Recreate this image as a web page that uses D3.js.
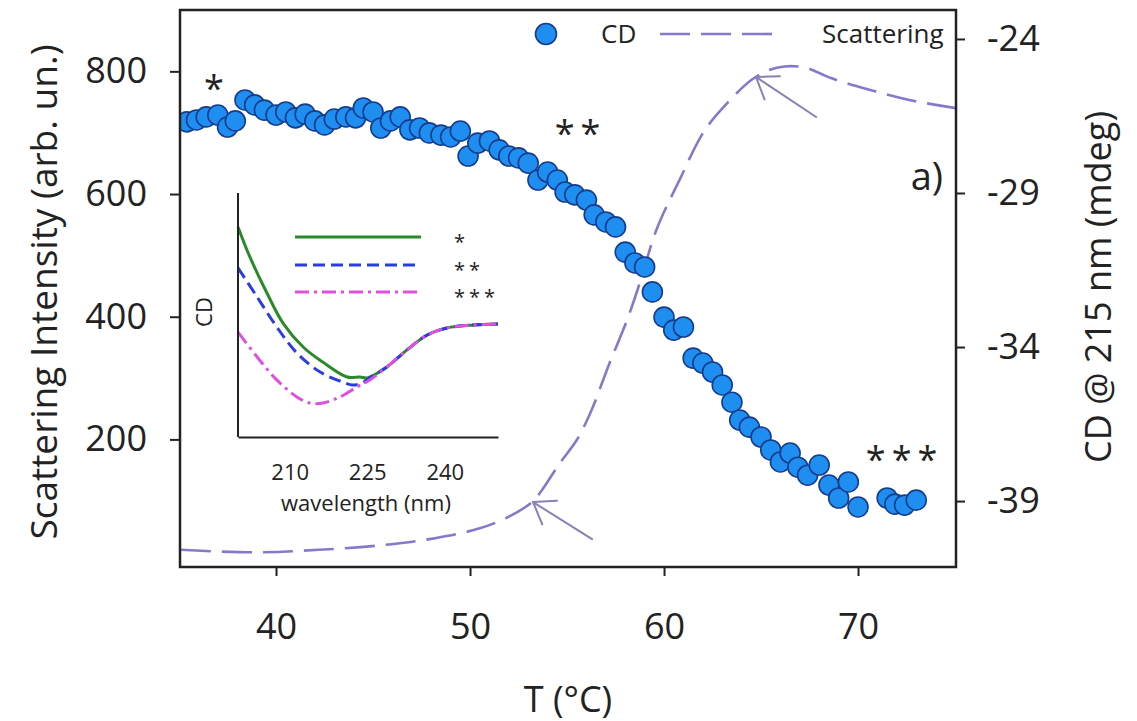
<!DOCTYPE html>
<html><head><meta charset="utf-8">
<script src="https://cdn.jsdelivr.net/npm/d3@7"></script>
<style>
body{margin:0;background:#fff;}
svg{display:block;}
text{font-family:'Open Sans',sans-serif;fill:#222;}
</style>
</head><body>
<svg id="c" width="1137" height="721"></svg>
<script>
// ---------- DATA ----------
// CD @ 215 nm (right axis) vs temperature
const cdT = [35.4, 35.9, 36.4, 37.0, 37.5, 37.9, 38.4, 38.9, 39.4, 40.0, 40.5, 41.0, 41.5, 42.0, 42.5, 43.0, 43.6, 44.1, 44.5, 45.0, 45.4, 45.9, 46.4, 46.9, 47.4, 47.9, 48.5, 49.0, 49.5, 49.9, 50.4, 51.0, 51.5, 52.0, 52.5, 53.0, 53.5, 54.0, 54.5, 54.9, 55.4, 56.0, 56.4, 57.0, 57.5, 58.0, 58.5, 59.0, 59.4, 60.0, 60.5, 61.0, 61.5, 62.0, 62.5, 63.0, 63.5, 63.9, 64.4, 65.0, 65.5, 66.0, 66.5, 66.9, 67.4, 68.0, 68.5, 69.0, 69.5, 70.0, 71.5, 71.9, 72.4, 73.0];
const cdVal = [-26.69, -26.63, -26.53, -26.47, -26.86, -26.66, -25.98, -26.14, -26.31, -26.47, -26.37, -26.56, -26.44, -26.66, -26.79, -26.60, -26.53, -26.56, -26.24, -26.37, -26.89, -26.66, -26.53, -26.95, -26.89, -27.05, -27.12, -27.18, -26.99, -27.80, -27.38, -27.31, -27.60, -27.80, -27.86, -28.03, -28.58, -28.32, -28.58, -28.97, -29.06, -29.23, -29.71, -29.94, -30.10, -30.92, -31.27, -31.40, -32.21, -33.03, -33.45, -33.35, -34.36, -34.52, -34.81, -35.23, -35.79, -36.37, -36.60, -36.92, -37.34, -37.73, -37.44, -37.90, -38.16, -37.83, -38.48, -38.90, -38.38, -39.19, -38.90, -39.10, -39.13, -38.97];

// Scattering intensity (left axis) vs temperature
const scatT   = [35.1, 38.8, 42.2, 45.6, 48.2, 50.5, 52.0, 53.2, 53.7, 54.6, 55.5, 56.2, 57.2, 58.1, 58.8, 59.6, 60.8, 62.1, 63.4, 64.5, 65.4, 66.2, 67.3, 68.6, 70.6, 72.7, 75.05];
const scatVal = [20, 16, 20, 28, 39, 55, 74, 98, 117, 160, 199, 243, 325, 395, 460, 541, 623, 704, 753, 786, 802, 808, 806, 789, 770, 753, 740];

// tick labels
const xTicks = [40, 50, 60, 70];
const yLeftTicks = [200, 400, 600, 800];
const yRightTicks = [-24, -29, -34, -39];

// annotation arrows (tail T, tail scattering, tip T, tip scattering)
const arrowTailT = [56.29, 67.84];
const arrowTailV = [37.5, 725.6];
const arrowTipT  = [53.25, 64.74];
const arrowTipV  = [97.8, 790.8];

// star labels (T, scattering-axis position)
const starText = ["*", "**", "***"];
const starT = [36.8, 55.7, 72.4];
const starV = [786, 712, 181];

// inset: CD spectra (arbitrary units) vs wavelength
const insetCommonWl  = [228.8, 232.7, 236.6, 240.4, 245.5, 250.3];
const insetCommonVal = [28.7, 35.7, 41.8, 44.7, 45.9, 46.3];
const insetGreenWl  = [200.0, 202.3, 205.6, 208.7, 212.6, 216.4, 221.1, 223.6, 225.0];
const insetGreenVal = [86.1, 73.8, 59.0, 46.7, 36.9, 30.7, 24.6, 24.6, 24.2];
const insetBlueWl   = [200.0, 203.7, 207.5, 211.4, 215.9, 220.3, 222.2, 224.0, 225.3];
const insetBlueVal  = [69.3, 57.4, 45.1, 34.4, 26.6, 22.5, 21.3, 22.1, 24.0];
const insetMagWl    = [200.0, 203.7, 207.5, 211.4, 213.9, 216.4, 219.7, 223.0, 225.5];
const insetMagVal   = [43.0, 32.8, 23.4, 16.4, 13.9, 13.9, 16.4, 20.5, 23.4];
const insetTicks = [210, 225, 240];
const insetLegend = ["*", "**", "***"];

// ---------- CHART ----------
const svg = d3.select('#c');
const M = {l:180, t:10, r:956, b:567};
const x  = d3.scaleLinear().domain([35.05, 75.05]).range([M.l, M.r]);
const yL = d3.scaleLinear().domain([-8, 900]).range([M.b, M.t]);
const yR = d3.scaleLinear().domain([-41.14, -23.06]).range([M.b, M.t]);

svg.append('rect').attr('width',1137).attr('height',721).attr('fill','#fff');
svg.append('defs').append('clipPath').attr('id','clip')
  .append('rect').attr('x',M.l).attr('y',M.t).attr('width',M.r-M.l).attr('height',M.b-M.t);

// ---- inset ----
const ix = d3.scaleLinear().domain([200, 250.3]).range([238, 498]);
const iy = d3.scaleLinear().domain([0, 100]).range([437, 193]);
const inset = svg.append('g');
const iline = d3.line().x(d=>ix(d[0])).y(d=>iy(d[1])).curve(d3.curveCatmullRom);
const common = d3.zip(insetCommonWl, insetCommonVal);
const series = [
  {wl: insetGreenWl, v: insetGreenVal, color:'#2a8a2a', dash:null},
  {wl: insetBlueWl,  v: insetBlueVal,  color:'#2a3ede', dash:'12,6'},
  {wl: insetMagWl,   v: insetMagVal,   color:'#e050e0', dash:'14,5,3,5'}
];
series.forEach(s=>{
  inset.append('path').datum(d3.zip(s.wl, s.v).concat(common))
    .attr('fill','none').attr('stroke',s.color).attr('stroke-width',3)
    .attr('stroke-dasharray',s.dash).attr('d',iline);
});
// inset axes
const ixAxis = inset.append('g').attr('transform','translate(0,437)')
  .call(d3.axisBottom(ix).tickValues(insetTicks).tickSize(0).tickPadding(27));
ixAxis.select('.domain').attr('stroke','#222').attr('stroke-width',2);
ixAxis.selectAll('text').attr('font-size',22).attr('fill','#333').attr('font-family',"'Open Sans',sans-serif");
inset.append('line').attr('x1',238).attr('x2',238).attr('y1',193).attr('y2',437)
  .attr('stroke','#222').attr('stroke-width',2);
inset.append('text').attr('x',366).attr('y',511).attr('text-anchor','middle')
  .attr('font-size',22).attr('fill','#333').text('wavelength (nm)');
inset.append('text').attr('transform','translate(212,312) rotate(-90)').attr('text-anchor','middle')
  .attr('font-size',22).attr('fill','#333').text('CD');
// inset legend
const legY = [237, 265, 292];
series.forEach((s,i)=>{
  inset.append('line').attr('x1',295).attr('x2',421).attr('y1',legY[i]).attr('y2',legY[i])
    .attr('stroke',s.color).attr('stroke-width',3).attr('stroke-dasharray',s.dash);
  inset.append('text').attr('x',454).attr('y',legY[i]+12).attr('font-size',20)
    .attr('letter-spacing','4px').attr('fill','#555').text(insetLegend[i]);
});

// ---- scattering curve ----
svg.append('path').datum(d3.zip(scatT, scatVal))
  .attr('clip-path','url(#clip)')
  .attr('fill','none').attr('stroke','#8878cc').attr('stroke-width',2.6)
  .attr('stroke-dasharray','30,11')
  .attr('d', d3.line().x(d=>x(d[0])).y(d=>yL(d[1])).curve(d3.curveCatmullRom));

// ---- arrows ----
arrowTipT.forEach((t,i)=>{
  const tx = x(t), ty = yL(arrowTipV[i]);
  const sx = x(arrowTailT[i]), sy = yL(arrowTailV[i]);
  const ang = Math.atan2(sy-ty, sx-tx);
  const g = svg.append('g').attr('stroke','#8682b4').attr('stroke-width',2).attr('fill','none').attr('stroke-linecap','round');
  g.append('line').attr('x1',sx).attr('y1',sy).attr('x2',tx).attr('y2',ty);
  [-0.62, 0.62].forEach(da=>{
    g.append('line').attr('x1',tx).attr('y1',ty)
      .attr('x2',tx+24*Math.cos(ang+da)).attr('y2',ty+24*Math.sin(ang+da));
  });
});

// ---- CD points ----
svg.append('g').attr('clip-path','url(#clip)')
  .selectAll('circle').data(d3.zip(cdT, cdVal)).join('circle')
  .attr('cx',d=>x(d[0])).attr('cy',d=>yR(d[1])).attr('r',10)
  .attr('fill','#1e8ef0').attr('stroke','#163c8c').attr('stroke-width',1.6);

// ---- star labels ----
starText.forEach((s,i)=>{
  svg.append('text').attr('x',x(starT[i])).attr('y',yL(starV[i])+21)
    .attr('text-anchor','middle').attr('font-size',36)
    .attr('letter-spacing', s.length>1 ? '6px':'0px').text(s);
});
svg.append('text').attr('x',943).attr('y',190).attr('text-anchor','end').attr('font-size',38).text('a)');

// ---- frame ----
svg.append('rect').attr('x',M.l).attr('y',M.t).attr('width',M.r-M.l).attr('height',M.b-M.t)
  .attr('fill','none').attr('stroke','#222').attr('stroke-width',2.5);

// ---- axes ----
function styleAxis(g){
  g.select('.domain').remove();
  g.selectAll('line').attr('stroke','#222').attr('stroke-width',2);
  g.selectAll('text').attr('font-size',36).attr('fill','#222').attr('font-family',"'Open Sans',sans-serif");
}
svg.append('g').attr('transform',`translate(0,${M.b})`)
  .call(d3.axisBottom(x).tickValues(xTicks).tickSize(9).tickPadding(37)).call(styleAxis);
svg.append('g').attr('transform',`translate(${M.l},0)`)
  .call(d3.axisLeft(yL).tickValues(yLeftTicks).tickSize(10).tickPadding(23)).call(styleAxis);
svg.append('g').attr('transform',`translate(${M.r},0)`)
  .call(d3.axisRight(yR).tickValues(yRightTicks).tickSize(9).tickPadding(22)
    .tickFormat(d=>'-' + Math.abs(d))).call(styleAxis);

// ---- titles ----
svg.append('text').attr('transform','translate(42,292) rotate(-90)').attr('text-anchor','middle')
  .attr('dominant-baseline','central').attr('font-size',37).text('Scattering Intensity (arb. un.)');
svg.append('text').attr('transform','translate(1097,287) rotate(-90)').attr('text-anchor','middle')
  .attr('dominant-baseline','central').attr('font-size',36).text('CD  @ 215 nm (mdeg)');
svg.append('text').attr('x',568).attr('y',698).attr('text-anchor','middle')
  .attr('dominant-baseline','central').attr('font-size',36).text('T (°C)');

// ---- legend ----
svg.append('circle').attr('cx',546).attr('cy',34).attr('r',10.5)
  .attr('fill','#1e8ef0').attr('stroke','#163c8c').attr('stroke-width',1.6);
svg.append('text').attr('x',601).attr('y',43).attr('font-size',26).text('CD');
svg.append('line').attr('x1',660).attr('x2',777).attr('y1',34).attr('y2',34)
  .attr('stroke','#8878cc').attr('stroke-width',2.6).attr('stroke-dasharray','30,11');
svg.append('text').attr('x',822).attr('y',43).attr('font-size',26).text('Scattering');
</script>
</body></html>
